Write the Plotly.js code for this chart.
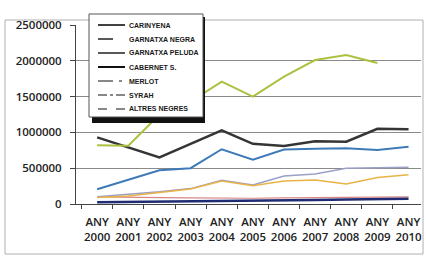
<!DOCTYPE html>
<html>
<head>
<meta charset="utf-8">
<script src="https://cdn.plot.ly/plotly-3.0.1.min.js"></script>
<style>
html,body{margin:0;padding:0;background:#fff;}
#chart{width:426px;height:256px;}
</style>
</head>
<body>
<div id="chart"></div>
<script>
// ---- data ----
const years = ["2000","2001","2002","2003","2004","2005","2006","2007","2008","2009","2010"];
const categories = years.map(y => "ANY<br>" + y);
const seriesNames = ["CARINYENA","GARNATXA NEGRA","GARNATXA PELUDA","CABERNET S.","MERLOT","SYRAH","ALTRES NEGRES"];
const carinyena      = [930000, 790000, 650000, 840000, 1030000, 840000, 810000, 875000, 870000, 1050000, 1045000];
const garnatxaNegra  = [820000, 815000, 1250000, 1430000, 1710000, 1500000, 1780000, 2010000, 2080000, 1970000, null];
const garnatxaPeluda = [25000, 28000, 30000, 34000, 38000, 42000, 48000, 55000, 62000, 70000, 72000];
const cabernet       = [205000, 335000, 470000, 500000, 765000, 620000, 760000, 770000, 780000, 755000, 800000];
const merlot         = [100000, 130000, 170000, 215000, 330000, 265000, 390000, 420000, 500000, 505000, 515000];
const syrah          = [90000, 110000, 160000, 210000, 320000, 255000, 320000, 335000, 280000, 370000, 410000];
const altresNegres   = [100000, 100000, 90000, 85000, 80000, 80000, 85000, 90000, 95000, 100000, 100000];
const yTicks = [0, 500000, 1000000, 1500000, 2000000, 2500000];

const seriesValues = [carinyena, garnatxaNegra, garnatxaPeluda, cabernet, merlot, syrah, altresNegres];
const seriesColors = ["#353535", "#a9c23f", "#1f2b72", "#3f7ab8", "#9c9fc6", "#e9b445", "#d98585"];
const seriesWidths = [2.5, 2, 2.5, 2, 1.5, 1.5, 1.2];
const legendDash   = ["solid", "longdash", "solid", "solid", "longdashdot", "dashdot", "dash"];
const legendWidth  = [1.6, 1.4, 1.4, 2, 1.2, 1.2, 1.2];

// draw order: low lines first
const order = [6, 2, 4, 5, 3, 0, 1];
const traces = order.map(i => ({
  type: "scatter", mode: "lines", name: seriesNames[i],
  x: categories, y: seriesValues[i],
  line: {color: seriesColors[i], width: seriesWidths[i]},
  showlegend: false, hoverinfo: "skip"
}));

// pixel helpers for decoration placement
const W = 426, H = 256, L = 76, R = 5, T = 25, B = 52;
const pw = W - L - R, ph = H - T - B;
const px = v => (v - L) / pw;
const py = v => (H - B - v) / ph;

const shapes = [];
const annotations = [];
// outer frame
shapes.push({type:"rect", xref:"paper", yref:"paper", x0:px(5), x1:px(423), y0:py(254), y1:py(20),
  line:{color:"#b0b0b0", width:1}, fillcolor:"rgba(0,0,0,0)", layer:"below"});
// legend shadow + box
shapes.push({type:"rect", xref:"paper", yref:"paper", x0:px(92), x1:px(205), y0:py(123), y1:py(17),
  line:{width:0}, fillcolor:"#111"});
shapes.push({type:"rect", xref:"paper", yref:"paper", x0:px(89), x1:px(203), y0:py(117), y1:py(14),
  line:{color:"#555", width:1}, fillcolor:"#ffffff"});
seriesNames.forEach((name, k) => {
  const yy = 25 + k * 14;
  shapes.push({type:"line", xref:"paper", yref:"paper", x0:px(98), x1:px(125), y0:py(yy), y1:py(yy),
    line:{color:"#111", width:legendWidth[k], dash:legendDash[k]}});
  annotations.push({xref:"paper", yref:"paper", x:px(127), y:py(yy), xanchor:"left", yanchor:"middle",
    showarrow:false, text:"<b>" + name + "</b>",
    font:{family:"Liberation Sans Narrow, Arial Narrow, Liberation Sans, sans-serif", size:7, color:"#1a1a1a"}});
});

const layout = {
  width: W, height: H,
  margin: {l: L, r: R, t: T, b: B, pad: 0},
  paper_bgcolor: "#ffffff", plot_bgcolor: "#ffffff",
  showlegend: false,
  font: {family: "Open Sans, sans-serif", color: "#222"},
  xaxis: {
    type: "category", range: [-0.68, 10.4],
    showgrid: false, zeroline: false,
    showline: true, linecolor: "#444", linewidth: 1,
    ticks: "outside", ticklen: 4, tickcolor: "#444", tickson: "boundaries",
    ticklabelstandoff: 7,
    tickfont: {family: "Open Sans, sans-serif", size: 11.5, color: "#222", weight: 600},
    tickangle: 0
  },
  yaxis: {
    range: [0, 2500000], tickvals: yTicks, ticktext: yTicks.map(String),
    showgrid: true, gridcolor: "#8a8a8a", gridwidth: 1,
    zeroline: false, showline: true, linecolor: "#444", linewidth: 1,
    ticks: "outside", ticklen: 5, tickcolor: "#444",
    ticklabelstandoff: 6,
    tickfont: {family: "Open Sans, sans-serif", size: 11.5, color: "#222", weight: 600}
  },
  shapes: shapes,
  annotations: annotations
};

Plotly.newPlot("chart", traces, layout, {displayModeBar: false, staticPlot: true});
</script>
</body>
</html>
